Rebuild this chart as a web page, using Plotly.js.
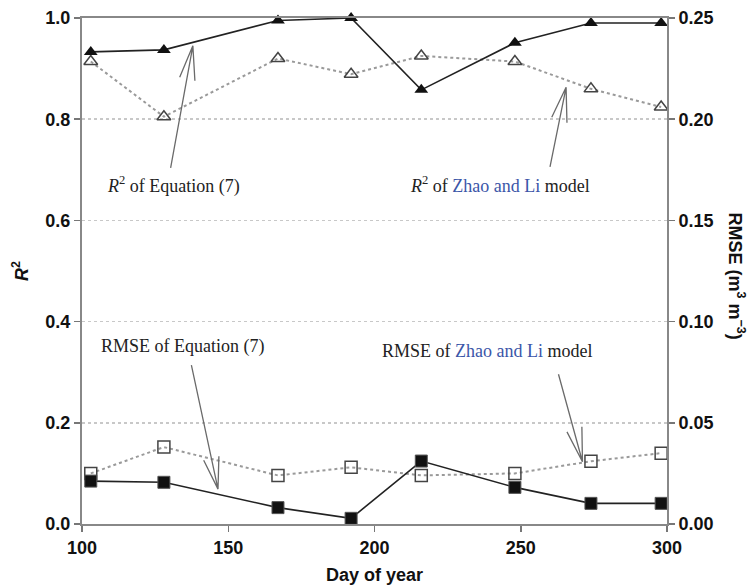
<!DOCTYPE html>
<html>
<head>
<meta charset="utf-8">
<script src="https://cdn.plot.ly/plotly-3.0.1.min.js"></script>
<style>html,body{margin:0;padding:0;background:#fff;}#chart{width:751px;height:585px;}</style>
</head>
<body>
<div id="chart"></div>
<script>
// Data
const days = [103, 128, 167, 192, 216, 248, 274, 298];
const r2Equation7 = [0.933, 0.937, 0.995, 1.0, 0.858, 0.951, 0.990, 0.990];
const r2ZhaoLi = [0.914, 0.805, 0.920, 0.889, 0.925, 0.914, 0.860, 0.824];
const rmseEquation7 = [0.0212, 0.0206, 0.0081, 0.0028, 0.0311, 0.0181, 0.0102, 0.0102];
const rmseZhaoLi = [0.025, 0.038, 0.024, 0.028, 0.024, 0.025, 0.031, 0.035];
const xTicks = [100, 150, 200, 250, 300];

const blue = '#3b56a8';
const serif = 'Liberation Serif, Times New Roman, serif';
const sans = 'Liberation Sans, Arial, sans-serif';

const traces = [
  {x: days, y: r2ZhaoLi, mode: 'lines+markers', yaxis: 'y', cliponaxis: false,
   line: {color: '#9a9a9a', width: 2, dash: 'dot'},
   marker: {symbol: 'triangle-up-open', size: 12, color: '#444', line: {width: 1.5, color: '#444'}}},
  {x: days, y: r2Equation7, mode: 'lines+markers', yaxis: 'y', cliponaxis: false,
   line: {color: '#222', width: 1.6},
   marker: {symbol: 'triangle-up', size: 12, color: '#111'}},
  {x: days, y: rmseZhaoLi, mode: 'lines+markers', yaxis: 'y2', cliponaxis: false,
   line: {color: '#9a9a9a', width: 2, dash: 'dot'},
   marker: {symbol: 'square-open', size: 12, color: '#444', line: {width: 1.5, color: '#444'}}},
  {x: days, y: rmseEquation7, mode: 'lines+markers', yaxis: 'y2', cliponaxis: false,
   line: {color: '#222', width: 1.6},
   marker: {symbol: 'square', size: 12, color: '#111', line: {width: 1, color: '#555'}}}
];

function arrowPath(tail, tip, v1, v2) {
  return `M${tail[0]},${tail[1]} L${tip[0]},${tip[1]} M${v1[0]},${v1[1]} L${tip[0]},${tip[1]} L${v2[0]},${v2[1]}`;
}
const arrowLine = {color: '#6a6a6a', width: 1.3};
const shapes = [
  {type: 'path', xref: 'x', yref: 'y', line: arrowLine,
   path: arrowPath([130.3, 0.704], [137.9, 0.945], [133.4, 0.883], [138.6, 0.876])},
  {type: 'path', xref: 'x', yref: 'y', line: arrowLine,
   path: arrowPath([260.0, 0.706], [265.5, 0.863], [260.6, 0.804], [265.8, 0.793])},
  {type: 'path', xref: 'x', yref: 'y', line: arrowLine,
   path: arrowPath([137.4, 0.314], [146.5, 0.069], [141.6, 0.126], [146.8, 0.134])},
  {type: 'path', xref: 'x', yref: 'y', line: arrowLine,
   path: arrowPath([262.9, 0.296], [271.1, 0.123], [265.8, 0.182], [270.9, 0.192])}
];

const annFont = {family: serif, size: 18, color: '#222'};
const titleFont = {family: sans, size: 18, color: '#111', weight: 'bold'};
const annotations = [
  {x: 131.4, y: 0.670, xref: 'x', yref: 'y', xanchor: 'center', yanchor: 'middle', showarrow: false, font: annFont,
   text: '<i>R</i><sup>2</sup> of Equation (7)'},
  {x: 242.9, y: 0.670, xref: 'x', yref: 'y', xanchor: 'center', yanchor: 'middle', showarrow: false, font: annFont,
   text: `<i>R</i><sup>2</sup> of <span style="color:${blue}">Zhao and Li</span> model`},
  {x: 134.5, y: 0.350, xref: 'x', yref: 'y', xanchor: 'center', yanchor: 'middle', showarrow: false, font: annFont,
   text: 'RMSE of Equation (7)'},
  {x: 238.7, y: 0.342, xref: 'x', yref: 'y', xanchor: 'center', yanchor: 'middle', showarrow: false, font: annFont,
   text: `RMSE of <span style="color:${blue}">Zhao and Li</span> model`},
  {x: -0.106, y: 0.50, xref: 'paper', yref: 'paper', xanchor: 'center', yanchor: 'middle', showarrow: false, textangle: -90,
   font: titleFont, text: '<b><i>R</i><sup>2</sup></b>'},
  {x: 1.119, y: 0.49, xref: 'paper', yref: 'paper', xanchor: 'center', yanchor: 'middle', showarrow: false, textangle: 90,
   font: titleFont, text: '<b>RMSE (m<sup>3</sup> m<sup>\u22123</sup>)</b>'},
  {x: 0.5, y: -0.1008, xref: 'paper', yref: 'paper', xanchor: 'center', yanchor: 'middle', showarrow: false,
   font: titleFont, text: '<b>Day of year</b>'}
];

const tickFont = {family: sans, size: 18, color: '#111', weight: 'bold'};
const layout = {
  width: 751, height: 585,
  margin: {l: 82, r: 84, t: 18, b: 61},
  paper_bgcolor: '#fff', plot_bgcolor: '#fff',
  showlegend: false,
  xaxis: {range: [100, 300], tickvals: xTicks, ticks: 'outside', ticklen: 6, tickwidth: 1.5,
          tickcolor: '#777', showline: true, linecolor: '#888', linewidth: 2, mirror: true,
          showgrid: false, zeroline: false, tickfont: tickFont},
  yaxis: {range: [0, 1], dtick: 0.2, tickformat: '.1f', ticks: 'outside', ticklen: 6, tickwidth: 1.5,
          tickcolor: '#777', showline: true, linecolor: '#888', linewidth: 2,
          showgrid: true, gridcolor: '#c8c8c8', griddash: 'dot', gridwidth: 1.5,
          zeroline: false, tickfont: tickFont},
  yaxis2: {range: [0, 0.25], dtick: 0.05, tickformat: '.2f', overlaying: 'y', side: 'right',
           ticks: 'outside', ticklen: 6, tickwidth: 1.5, tickcolor: '#777',
           showline: true, linecolor: '#888', linewidth: 2, showgrid: false, zeroline: false,
           tickfont: tickFont},
  shapes: shapes,
  annotations: annotations
};

Plotly.newPlot('chart', traces, layout, {displayModeBar: false, staticPlot: true});
</script>
</body>
</html>
